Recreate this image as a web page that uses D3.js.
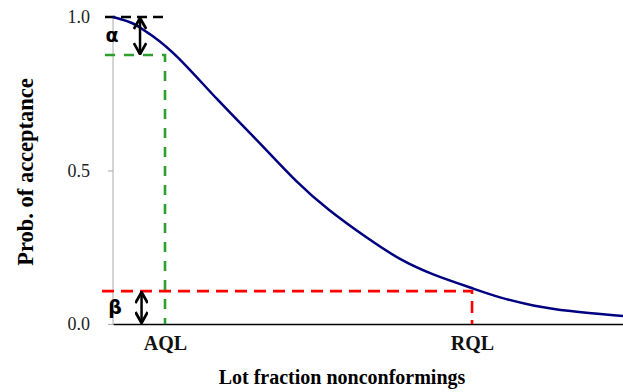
<!DOCTYPE html>
<html>
<head>
<meta charset="utf-8">
<script src="https://cdn.jsdelivr.net/npm/d3@7"></script>
<style>
  body { margin: 0; background: #fff; }
  svg { display: block; }
  svg text { font-family: "Liberation Serif", "Times New Roman", serif; }
  svg text.greek { font-family: "DejaVu Sans", sans-serif; }
</style>
</head>
<body>
<div id="chart"></div>
<script>
// lot fraction nonconforming (arbitrary 0-100 units) and probability of acceptance
const fraction = [0, 4.3, 6.3, 7.3, 12.2, 20.4, 28.8, 36.1, 42.2, 49.8, 56.3, 62.7, 70.4, 75.9, 82.4, 89.0, 100];
const probAccept = [1.0, 0.980, 0.953, 0.945, 0.883, 0.730, 0.590, 0.459, 0.371, 0.280, 0.208, 0.160, 0.117, 0.085, 0.059, 0.042, 0.026];

const yTicks = [0, 0.5, 1.0];
const AQL = 10.2, RQL = 70.4;
const alphaLevel = 0.876;   // 1 - alpha
const betaLevel = 0.107;
const xLabels = {AQL: AQL, RQL: RQL};

const width = 623, height = 392;
const margin = {top: 17, right: 0, bottom: 68, left: 113};
const serif = "'Liberation Serif', 'Times New Roman', serif";

let svg = d3.select("#chart").append("svg")
    .attr("width", width)
    .attr("height", height);

let x = d3.scaleLinear().domain([0, 100]).range([margin.left, width - margin.right]);
let y = d3.scaleLinear().domain([0, 1]).range([height - margin.bottom, margin.top]);

// y axis (gray)
let yAxis = svg.append("g")
    .attr("transform", "translate(" + margin.left + ",0)")
    .attr("font-family", null)
    .call(d3.axisLeft(y).tickValues(yTicks).tickFormat(d3.format(".1f")).tickSize(5).tickPadding(18));
yAxis.attr("font-family", serif);
yAxis.select(".domain").attr("stroke", "#aaa").attr("d", "M0," + y(0) + "V" + y(1));
yAxis.selectAll(".tick line").attr("stroke", "#aaa");
yAxis.selectAll("text")
    .style("font-family", serif)
    .style("font-size", "18px")
    .attr("fill", "#222");

// x axis with AQL / RQL labels
let xAxis = svg.append("g")
    .attr("transform", "translate(0," + y(0) + ")")
    .call(d3.axisBottom(x)
        .tickValues(Object.values(xLabels))
        .tickFormat(d => Object.keys(xLabels).find(k => xLabels[k] === d))
        .tickSize(0).tickPadding(12));
xAxis.attr("font-family", serif);
xAxis.select(".domain").attr("stroke", "#000").attr("stroke-width", 1.5);
xAxis.selectAll("text")
    .style("font-family", serif)
    .style("font-size", "20px")
    .style("font-weight", "bold")
    .attr("fill", "#111");

// reference lines
let dash = (pts, color, pattern) => {
    svg.append("path")
        .attr("d", d3.line()(pts))
        .attr("fill", "none")
        .attr("stroke", color)
        .attr("stroke-width", 2.6)
        .attr("stroke-dasharray", pattern);
};
dash([[x(0) - 8, y(1)], [x(AQL), y(1)]], "#000", "10,6");
dash([[x(0) - 8, y(alphaLevel)], [x(AQL), y(alphaLevel)], [x(AQL), y(0)]], "#2ca02c", "10,9");
dash([[x(0) - 11, y(betaLevel)], [x(RQL), y(betaLevel)], [x(RQL), y(0)]], "#ff0000", "12,7");

// OC curve
let ocData = fraction.map((f, i) => [f, probAccept[i]]);
svg.append("path")
    .datum(ocData)
    .attr("d", d3.line().x(d => x(d[0])).y(d => y(d[1])).curve(d3.curveBasis))
    .attr("fill", "none")
    .attr("stroke", "#000080")
    .attr("stroke-width", 2.5);

// double-headed arrows for alpha and beta
let defs = svg.append("defs");
defs.append("marker")
    .attr("id", "chev")
    .attr("viewBox", "0 0 10 10")
    .attr("refX", 9).attr("refY", 5)
    .attr("markerWidth", 5.5).attr("markerHeight", 5.5)
    .attr("orient", "auto-start-reverse")
    .append("path")
    .attr("d", "M1,0.5 L9,5 L1,9.5")
    .attr("fill", "none")
    .attr("stroke", "#000")
    .attr("stroke-width", 2);

let arrow = (xv, y1, y2) => {
    svg.append("line")
        .attr("x1", x(xv)).attr("x2", x(xv))
        .attr("y1", y(y1) + 1).attr("y2", y(y2) - 1)
        .attr("stroke", "#000")
        .attr("stroke-width", 2.5)
        .attr("marker-start", "url(#chev)")
        .attr("marker-end", "url(#chev)");
};
arrow(5.3, 1, alphaLevel);
arrow(5.6, betaLevel, 0);

svg.append("text")
    .attr("class", "greek")
    .attr("x", x(0) - 1).attr("y", (y(1) + y(alphaLevel)) / 2 + 6)
    .attr("text-anchor", "middle")
    .attr("font-size", 19).attr("font-weight", "bold")
    .text("α");
svg.append("text")
    .attr("class", "greek")
    .attr("x", x(0) + 2).attr("y", (y(betaLevel) + y(0)) / 2 + 6)
    .attr("text-anchor", "middle")
    .attr("font-size", 19).attr("font-weight", "bold")
    .text("β");

// axis titles
svg.append("text")
    .attr("x", 342).attr("y", 384)
    .attr("text-anchor", "middle")
    .attr("font-size", 20).attr("font-weight", "bold")
    .text("Lot fraction nonconformings");
svg.append("text")
    .attr("transform", "translate(33,172) rotate(-90)")
    .attr("text-anchor", "middle")
    .attr("font-size", 22.5).attr("font-weight", "bold")
    .text("Prob. of acceptance");
</script>
</body>
</html>
